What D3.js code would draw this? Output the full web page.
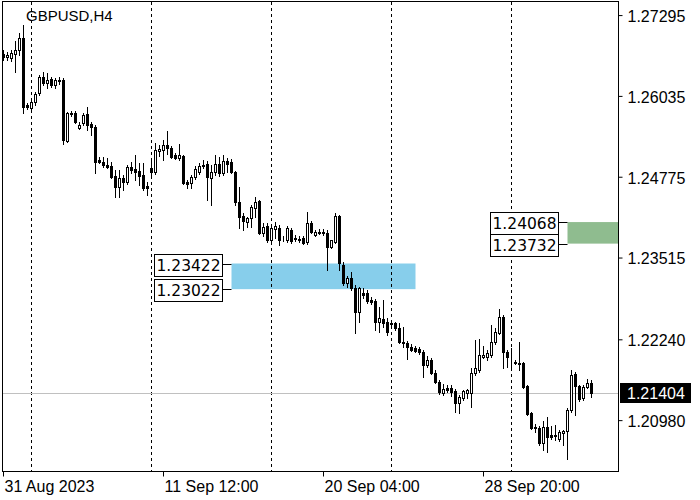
<!DOCTYPE html>
<html>
<head>
<meta charset="utf-8">
<script src="https://cdn.jsdelivr.net/npm/d3@7"></script>
<style>
  body { margin: 0; background: #fff; }
  svg { display: block; }
</style>
</head>
<body>
<div id="chart"></div>
<script>
// GBPUSD H4 candles, 31 Aug 2023 20:00 .. 5 Oct 2023 08:00
const symbolTitle = "GBPUSD,H4";

const opens = [
  1.2669, 1.2664, 1.2663, 1.2669, 1.2675, 1.2694, 1.2589, 1.2585, 1.2594, 1.2608,
  1.2633, 1.2624, 1.2630, 1.2620, 1.2628, 1.2628, 1.2533, 1.2577, 1.2577, 1.2553,
  1.2561, 1.2575, 1.2560, 1.2555, 1.2504, 1.2500, 1.2496, 1.2494, 1.2479, 1.2461,
  1.2476, 1.2469, 1.2493, 1.2490, 1.2486, 1.2480, 1.2463, 1.2491, 1.2485, 1.2518,
  1.2519, 1.2527, 1.2522, 1.2511, 1.2507, 1.2510, 1.2469, 1.2468, 1.2477, 1.2485,
  1.2494, 1.2497, 1.2476, 1.2485, 1.2497, 1.2483, 1.2502, 1.2500, 1.2485, 1.2438,
  1.2416, 1.2407, 1.2413, 1.2429, 1.2440, 1.2390, 1.2401, 1.2379, 1.2396, 1.2398,
  1.2380, 1.2379, 1.2394, 1.2382, 1.2380, 1.2382, 1.2376, 1.2405, 1.2387, 1.2391,
  1.2390, 1.2390, 1.2368, 1.2376, 1.2416, 1.2340, 1.2312, 1.2320, 1.2304, 1.2267,
  1.2296, 1.2296, 1.2285, 1.2284, 1.2251, 1.2256, 1.2251, 1.2249, 1.2249, 1.2242,
  1.2220, 1.2218, 1.2212, 1.2211, 1.2209, 1.2204, 1.2184, 1.2192, 1.2172, 1.2157,
  1.2140, 1.2148, 1.2148, 1.2143, 1.2125, 1.2133, 1.2140, 1.2140, 1.2172, 1.2176,
  1.2196, 1.2196, 1.2200, 1.2220, 1.2234, 1.2259, 1.2204, 1.2189, 1.2189, 1.2187,
  1.2187, 1.2151, 1.2109, 1.2087, 1.2086, 1.2062, 1.2087, 1.2075, 1.2075, 1.2069,
  1.2078, 1.2081, 1.2114, 1.2170, 1.2151, 1.2133, 1.2150, 1.2156
];
const highs = [
  1.2675, 1.2672, 1.2675, 1.2689, 1.2702, 1.2714, 1.2592, 1.2597, 1.2610, 1.2636,
  1.2641, 1.2639, 1.2633, 1.2631, 1.2633, 1.2631, 1.2578, 1.2580, 1.2580, 1.2563,
  1.2577, 1.2586, 1.2563, 1.2558, 1.2508, 1.2508, 1.2507, 1.2500, 1.2488, 1.2488,
  1.2480, 1.2496, 1.2500, 1.2511, 1.2499, 1.2499, 1.2469, 1.2504, 1.2530, 1.2527,
  1.2535, 1.2549, 1.2525, 1.2515, 1.2529, 1.2511, 1.2472, 1.2480, 1.2494, 1.2499,
  1.2504, 1.2502, 1.2496, 1.2511, 1.2508, 1.2511, 1.2507, 1.2505, 1.2486, 1.2461,
  1.2421, 1.2415, 1.2433, 1.2446, 1.2441, 1.2405, 1.2405, 1.2402, 1.2407, 1.2402,
  1.2385, 1.2401, 1.2398, 1.2387, 1.2385, 1.2385, 1.2422, 1.2408, 1.2394, 1.2396,
  1.2396, 1.2394, 1.2379, 1.2421, 1.2418, 1.2345, 1.2323, 1.2329, 1.2309, 1.2306,
  1.2304, 1.2301, 1.2290, 1.2287, 1.2274, 1.2285, 1.2257, 1.2254, 1.2251, 1.2249,
  1.2243, 1.2221, 1.2217, 1.2214, 1.2212, 1.2207, 1.2198, 1.2195, 1.2176, 1.2161,
  1.2154, 1.2153, 1.2153, 1.2147, 1.2137, 1.2145, 1.2147, 1.2179, 1.2223, 1.2225,
  1.2214, 1.2207, 1.2246, 1.2242, 1.2271, 1.2262, 1.2207, 1.2211, 1.2192, 1.2220,
  1.2189, 1.2153, 1.2111, 1.2092, 1.2089, 1.2097, 1.2103, 1.2089, 1.2090, 1.2083,
  1.2083, 1.2117, 1.2176, 1.2173, 1.2153, 1.2153, 1.2162, 1.2161
];
const lows = [
  1.2659, 1.2659, 1.2658, 1.2641, 1.2667, 1.2577, 1.2583, 1.2583, 1.2589, 1.2605,
  1.2620, 1.2616, 1.2617, 1.2616, 1.2622, 1.2529, 1.2532, 1.2572, 1.2561, 1.2552,
  1.2558, 1.2550, 1.2543, 1.2483, 1.2499, 1.2493, 1.2491, 1.2476, 1.2446, 1.2446,
  1.2457, 1.2466, 1.2483, 1.2472, 1.2465, 1.2457, 1.2449, 1.2479, 1.2482, 1.2510,
  1.2504, 1.2513, 1.2507, 1.2505, 1.2504, 1.2466, 1.2460, 1.2460, 1.2474, 1.2482,
  1.2491, 1.2441, 1.2433, 1.2480, 1.2479, 1.2480, 1.2485, 1.2483, 1.2433, 1.2398,
  1.2394, 1.2399, 1.2399, 1.2415, 1.2388, 1.2385, 1.2376, 1.2376, 1.2382, 1.2371,
  1.2377, 1.2376, 1.2374, 1.2377, 1.2376, 1.2373, 1.2373, 1.2390, 1.2385, 1.2388,
  1.2387, 1.2332, 1.2366, 1.2374, 1.2332, 1.2309, 1.2306, 1.2301, 1.2234, 1.2251,
  1.2288, 1.2281, 1.2279, 1.2239, 1.2235, 1.2243, 1.2231, 1.2245, 1.2239, 1.2218,
  1.2212, 1.2193, 1.2206, 1.2204, 1.2201, 1.2165, 1.2181, 1.2170, 1.2156, 1.2139,
  1.2137, 1.2142, 1.2136, 1.2111, 1.2109, 1.2129, 1.2133, 1.2118, 1.2168, 1.2173,
  1.2195, 1.2192, 1.2196, 1.2217, 1.2232, 1.2179, 1.2181, 1.2176, 1.2186, 1.2176,
  1.2148, 1.2106, 1.2084, 1.2080, 1.2059, 1.2051, 1.2048, 1.2069, 1.2067, 1.2066,
  1.2059, 1.2037, 1.2111, 1.2106, 1.2128, 1.2129, 1.2148, 1.2134
];
const closes = [
  1.2664, 1.2667, 1.2670, 1.2675, 1.2694, 1.2586, 1.2586, 1.2594, 1.2606, 1.2633,
  1.2624, 1.2628, 1.2620, 1.2628, 1.2627, 1.2535, 1.2577, 1.2575, 1.2563, 1.2558,
  1.2574, 1.2558, 1.2555, 1.2500, 1.2500, 1.2496, 1.2493, 1.2477, 1.2461, 1.2476,
  1.2469, 1.2493, 1.2488, 1.2485, 1.2479, 1.2460, 1.2460, 1.2485, 1.2519, 1.2521,
  1.2527, 1.2522, 1.2508, 1.2507, 1.2511, 1.2468, 1.2466, 1.2477, 1.2490, 1.2494,
  1.2496, 1.2477, 1.2485, 1.2497, 1.2483, 1.2502, 1.2497, 1.2485, 1.2438, 1.2415,
  1.2408, 1.2413, 1.2430, 1.2438, 1.2390, 1.2399, 1.2379, 1.2398, 1.2401, 1.2379,
  1.2380, 1.2398, 1.2377, 1.2380, 1.2379, 1.2374, 1.2405, 1.2391, 1.2391, 1.2390,
  1.2391, 1.2368, 1.2379, 1.2416, 1.2343, 1.2312, 1.2320, 1.2304, 1.2267, 1.2304,
  1.2293, 1.2284, 1.2282, 1.2251, 1.2257, 1.2249, 1.2235, 1.2248, 1.2242, 1.2220,
  1.2218, 1.2212, 1.2207, 1.2206, 1.2204, 1.2184, 1.2192, 1.2172, 1.2157, 1.2142,
  1.2147, 1.2145, 1.2142, 1.2125, 1.2134, 1.2143, 1.2145, 1.2172, 1.2179, 1.2200,
  1.2200, 1.2203, 1.2220, 1.2235, 1.2259, 1.2204, 1.2196, 1.2189, 1.2187, 1.2186,
  1.2150, 1.2108, 1.2086, 1.2086, 1.2062, 1.2087, 1.2072, 1.2072, 1.2074, 1.2080,
  1.2081, 1.2114, 1.2168, 1.2151, 1.2131, 1.2150, 1.2156, 1.21404
];

// axis labels
const priceTicks = [1.27295, 1.26035, 1.24775, 1.23515, 1.22240, 1.20980];
const timeTickBars = [0, 40, 80, 120];
const timeTickLabels = ["31 Aug 2023", "11 Sep 12:00", "20 Sep 04:00", "28 Sep 20:00"];
const weekStartBars = [7, 37, 67, 97, 127];   // dashed period separators
const lastPrice = 1.21404;

// zones: [from bar, to bar (null = right edge), upper price, lower price]
const blueZone = [57, 103, 1.23422, 1.23022];
const greenZone = [141, null, 1.24068, 1.23732];

const W = 700, H = 500;
const plot = {left: 2, top: 2, right: 618, bottom: 471};

const svg = d3.select("#chart").append("svg")
    .attr("width", W)
    .attr("height", H)
    .style("background", "#fff");

const candles = opens.map((o, i) => ({i: i, o: o, h: highs[i], l: lows[i], c: closes[i]}));

// 4 px per bar, first bar centred on pixel column 3
const x = d3.scaleLinear()
    .domain([0, candles.length - 1])
    .range([3, 3 + 4 * (candles.length - 1)]);

const y = d3.scaleLinear()
    .domain([1.20187, 1.27499])
    .range([plot.bottom, plot.top]);

const cx = i => x(i) + 0.5;

// zones (background objects)
function drawZone(z, color) {
    const x0 = cx(z[0]);
    const x1 = z[1] === null ? plot.right : cx(z[1]);
    svg.append("rect")
        .attr("x", x0)
        .attr("y", y(z[2]))
        .attr("width", x1 - x0)
        .attr("height", y(z[3]) - y(z[2]))
        .attr("fill", color);
}
drawZone(blueZone, "#87ceeb");
drawZone(greenZone, "#8fbc8f");

// weekly separators
svg.append("g")
    .selectAll("line")
    .data(weekStartBars)
    .join("line")
    .attr("x1", d => cx(d))
    .attr("x2", d => cx(d))
    .attr("y1", plot.top)
    .attr("y2", plot.bottom)
    .attr("stroke", "#000")
    .attr("stroke-width", 1)
    .attr("stroke-dasharray", "3,3");

// last price line
const yLast = y(lastPrice);
svg.append("line")
    .attr("x1", plot.left)
    .attr("x2", plot.right)
    .attr("y1", Math.round(yLast) + 0.5)
    .attr("y2", Math.round(yLast) + 0.5)
    .attr("stroke", "#c0c0c0");

// candles
const g = svg.append("g").attr("shape-rendering", "crispEdges");

g.selectAll("line.wick")
    .data(candles)
    .join("line")
    .attr("class", "wick")
    .attr("x1", d => cx(d.i))
    .attr("x2", d => cx(d.i))
    .attr("y1", d => Math.round(y(d.h)))
    .attr("y2", d => Math.round(y(d.l)) + 1)
    .attr("stroke", "#000");

g.selectAll("rect.body")
    .data(candles)
    .join("rect")
    .attr("class", "body")
    .attr("x", d => cx(d.i) - 1)
    .attr("y", d => Math.round(y(Math.max(d.o, d.c))) + 0.5)
    .attr("width", 2)
    .attr("height", d => Math.max(0, Math.round(y(Math.min(d.o, d.c))) - Math.round(y(Math.max(d.o, d.c)))))
    .attr("fill", d => d.c >= d.o ? "#fff" : "#000")
    .attr("stroke", "#000")
    .attr("stroke-width", 1);

// frame
svg.append("rect")
    .attr("x", plot.left + 0.5)
    .attr("y", plot.top - 0.5)
    .attr("width", plot.right - plot.left)
    .attr("height", plot.bottom - plot.top + 1)
    .attr("fill", "none")
    .attr("stroke", "#000");

// price axis
const yAxis = svg.append("g")
    .attr("transform", "translate(" + (plot.right + 0.5) + ",0)")
    .call(d3.axisRight(y)
        .tickValues(priceTicks)
        .tickFormat(d3.format(".5f"))
        .tickSize(4)
        .tickSizeOuter(0)
        .tickPadding(5));
yAxis.select(".domain").remove();
yAxis.selectAll("text")
    .attr("dy", "0.4em")
    .attr("fill", "#000")
    .style("font-family", "'Liberation Sans', Arial, sans-serif")
    .style("font-size", "16px");

// time axis
const xAxis = svg.append("g")
    .attr("transform", "translate(0," + (plot.bottom + 0.5) + ")")
    .call(d3.axisBottom(x)
        .tickValues(timeTickBars)
        .tickFormat((d, k) => timeTickLabels[k])
        .tickSize(5)
        .tickSizeOuter(0)
        .tickPadding(4));
xAxis.select(".domain").remove();
xAxis.selectAll("text")
    .attr("text-anchor", "start")
    .attr("x", 1)
    .attr("fill", "#000")
    .style("font-family", "'Liberation Sans', Arial, sans-serif")
    .style("font-size", "16px");

// last price tag
svg.append("rect")
    .attr("x", 620)
    .attr("y", Math.round(yLast) - 10)
    .attr("width", 71)
    .attr("height", 20)
    .attr("fill", "#000");
svg.append("text")
    .attr("x", 627)
    .attr("y", yLast + 6)
    .attr("fill", "#fff")
    .style("font-family", "'Liberation Sans', Arial, sans-serif")
    .style("font-size", "16px")
    .text(d3.format(".5f")(lastPrice));

// zone price labels with connectors
function zoneLabels(z) {
    const left = cx(z[0]);
    const boxRight = left - 10, boxW = 68, boxH = 22;
    [z[2], z[3]].forEach(p => {
        const py = Math.round(y(p)) + 0.5;
        svg.append("line")
            .attr("x1", boxRight)
            .attr("x2", left)
            .attr("y1", py)
            .attr("y2", py)
            .attr("stroke", "#000");
        svg.append("rect")
            .attr("x", Math.round(boxRight - boxW) + 0.5)
            .attr("y", Math.round(py - boxH / 2) + 0.5)
            .attr("width", boxW)
            .attr("height", boxH)
            .attr("fill", "#fff")
            .attr("stroke", "#000");
        svg.append("text")
            .attr("x", boxRight - boxW + 3)
            .attr("y", py + 6)
            .attr("fill", "#000")
            .style("font-family", "'DejaVu Sans', Verdana, sans-serif")
            .style("font-size", "15.5px")
            .text(d3.format(".5f")(p));
    });
}
zoneLabels(blueZone);
zoneLabels(greenZone);

// title
svg.append("text")
    .attr("x", 26)
    .attr("y", 21)
    .attr("fill", "#000")
    .style("font-family", "'Liberation Sans', Arial, sans-serif")
    .style("font-size", "15px")
    .text(symbolTitle);
</script>
</body>
</html>
